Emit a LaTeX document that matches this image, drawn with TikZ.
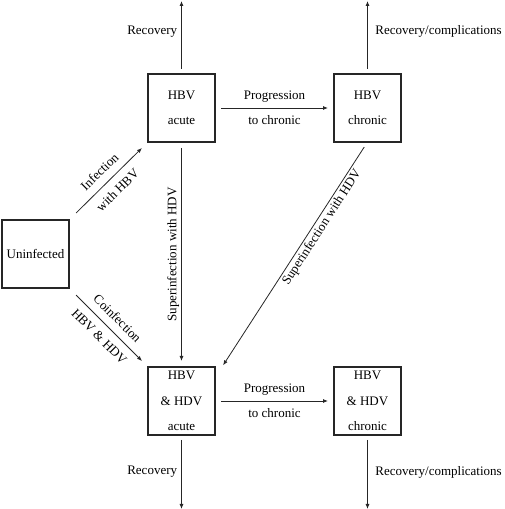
\documentclass[tikz,border=0pt]{standalone}
\usepackage{fontspec}
\setmainfont{Liberation Serif}
\usetikzlibrary{positioning, arrows.meta}

\begin{document}
\begin{tikzpicture}[
    x=1pt, y=1pt,
    >={Latex[length=5pt, width=4pt]}, % small filled arrow tips
    font=\fontsize{13}{25.5}\selectfont,
    % Styles
    stage/.style={ % Infection stage box
        rectangle,
        draw=black!85,
        line width=1.1pt,
        minimum width=67pt,
        minimum height=68pt,
        inner sep=1pt,
        outer sep=0pt,
        align=center
    },
    arrow/.style={
        ->,
        draw=black!85,
        line width=0.8pt
    },
    arrowg/.style={ % Arrows kept clear of both boxes
        arrow,
        shorten <=6pt,
        shorten >=6pt
    },
    lbl/.style={ % Edge labels
        inner sep=2pt,
        align=center
    }
]
    \useasboundingbox (0,0) rectangle (505,509);

    % Stages
    \node[stage] (hbvA) at (181.5,401) {HBV\\acute};
    \node[stage, right=119pt of hbvA] (hbvC) {HBV\\chronic};
    \node[stage, below=225pt of hbvA] (hdvA) {HBV\\\& HDV\\acute};
    \node[stage, right=119pt of hdvA] (hdvC) {HBV\\\& HDV\\chronic};
    \node[stage] (uninf) at (35.5,255) {Uninfected};

    % Free ends of the outcome arrows
    \coordinate[above=73pt of hbvA.north] (outA);
    \coordinate[above=73pt of hbvC.north] (outC);
    \coordinate[below=74pt of hdvA.south] (outAD);
    \coordinate[below=74pt of hdvC.south] (outCD);

    % Infection routes
    \draw[arrow, shorten <=10pt, shorten >=8.5pt] (uninf.north east) -- (hbvA.south west)
        node[lbl, midway, sloped] {Infection\\with HBV};
    \draw[arrow, shorten <=10pt, shorten >=8.5pt] (uninf.south east) -- (hdvA.north west)
        node[lbl, midway, sloped] {Coinfection\\HBV \& HDV};

    % Progression to chronic
    \draw[arrowg] (hbvA.east) -- (hbvC.west) node[lbl, midway] {Progression\\to chronic};
    \draw[arrowg] (hdvA.east) -- (hdvC.west) node[lbl, midway] {Progression\\to chronic};

    % Superinfection
    \draw[arrowg] (hbvA.south) -- (hdvA.north)
        node[lbl, midway, anchor=south, rotate=90] {Superinfection with HDV};
    \draw[arrow, shorten <=6pt, shorten >=2pt] (hbvC.south) -- ([xshift=7pt]hdvA.north east)
        node[lbl, pos=0.36, sloped, below] {Superinfection with HDV};

    % Outcomes
    \draw[arrow, shorten <=5pt] (hbvA.north) -- (outA) node[lbl, pos=0.58, left=2pt] {Recovery};
    \draw[arrow, shorten <=5pt] (hbvC.north) -- (outC) node[lbl, pos=0.58, right=5.5pt] {Recovery/complications};
    \draw[arrow, shorten <=5pt] (hdvA.south) -- (outAD) node[lbl, midway, left=2pt] {Recovery};
    \draw[arrow, shorten <=5pt] (hdvC.south) -- (outCD) node[lbl, midway, right=5.5pt] {Recovery/complications};
\end{tikzpicture}
\end{document}
